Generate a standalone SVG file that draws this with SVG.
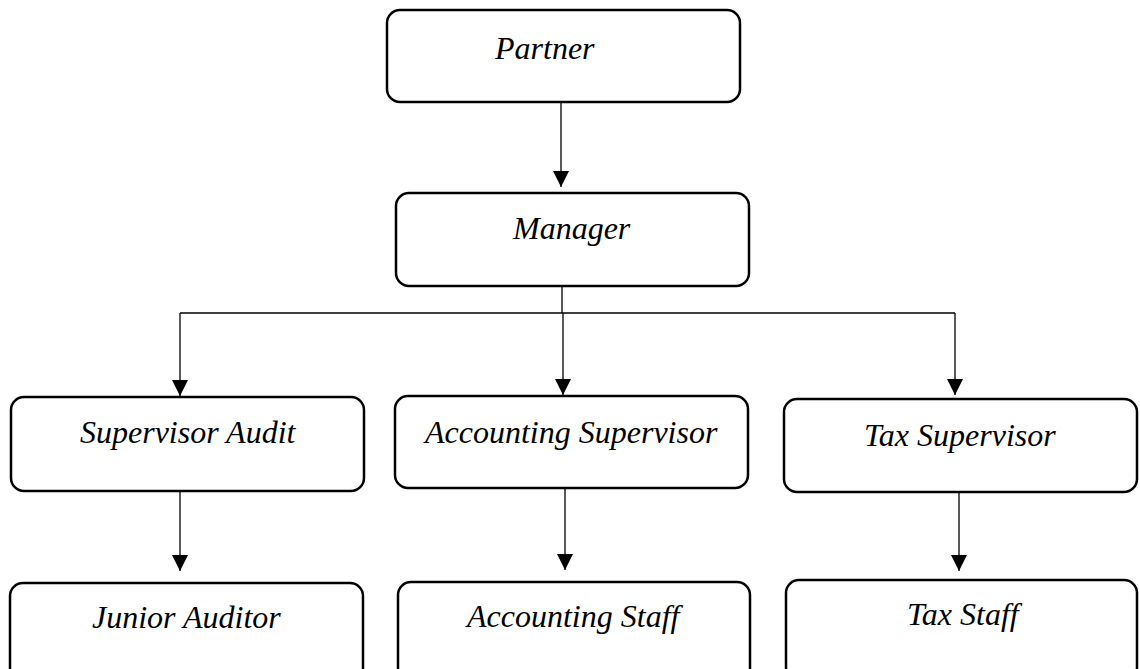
<svg xmlns="http://www.w3.org/2000/svg" width="1140" height="669" viewBox="0 0 1140 669">
<style>
.box{fill:#fff;stroke:#000;stroke-width:2.5}
.lbl{font-family:"Liberation Serif","Times New Roman",serif;font-style:italic;font-size:32px;fill:#000}
.ln{fill:none;stroke:#000;stroke-width:1.3}
</style>
<defs>
<marker id="ah" markerUnits="userSpaceOnUse" markerWidth="17" markerHeight="16" refX="16" refY="8" orient="auto" viewBox="0 0 17 16">
<path d="M0,0 L16,8 L0,16 Z" fill="#000"/>
</marker>
</defs>
<rect width="1140" height="669" fill="#fff"/>
<g id="connectors">
<path class="ln" d="M561,102 V187" marker-end="url(#ah)"/>
<path class="ln" d="M562,286 V313"/>
<path class="ln" d="M180,313 H955"/>
<path class="ln" d="M180,313 V396" marker-end="url(#ah)"/>
<path class="ln" d="M563,313 V395" marker-end="url(#ah)"/>
<path class="ln" d="M955,313 V395" marker-end="url(#ah)"/>
<path class="ln" d="M180,491 V571" marker-end="url(#ah)"/>
<path class="ln" d="M565,488 V570" marker-end="url(#ah)"/>
<path class="ln" d="M959,492 V571" marker-end="url(#ah)"/>
</g>
<g id="partner"><rect class="box" x="387" y="10" width="353" height="92" rx="13"/><text class="lbl" x="495" y="59">Partner</text></g>
<g id="manager"><rect class="box" x="396" y="193" width="353" height="93" rx="13"/><text class="lbl" x="513" y="239">Manager</text></g>
<g id="supervisor-audit"><rect class="box" x="11" y="397" width="353" height="94" rx="13"/><text class="lbl" x="80" y="443">Supervisor Audit</text></g>
<g id="accounting-supervisor"><rect class="box" x="395" y="396" width="353" height="92" rx="13"/><text class="lbl" x="425" y="443">Accounting Supervisor</text></g>
<g id="tax-supervisor"><rect class="box" x="784" y="399" width="353" height="93" rx="13"/><text class="lbl" x="864" y="446">Tax Supervisor</text></g>
<g id="junior-auditor"><rect class="box" x="10" y="583" width="353" height="100" rx="13"/><text class="lbl" x="92" y="628">Junior Auditor</text></g>
<g id="accounting-staff"><rect class="box" x="398" y="582" width="352" height="100" rx="13"/><text class="lbl" x="467" y="627">Accounting Staff</text></g>
<g id="tax-staff"><rect class="box" x="786" y="580" width="351" height="100" rx="13"/><text class="lbl" x="907" y="625">Tax Staff</text></g>
</svg>
